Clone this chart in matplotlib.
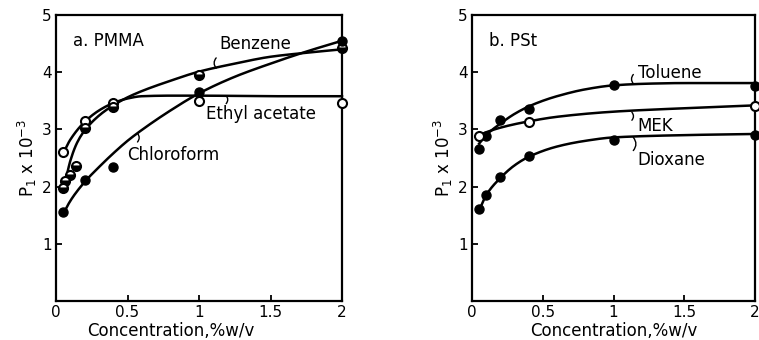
import numpy as np
import matplotlib
matplotlib.use("Agg")
import matplotlib.pyplot as plt

# ── Panel a: PMMA ─────────────────────────────────────────────────────────────
# measured points (read from figure)
ea_x = [0.05, 0.2, 0.4, 1.0, 2.0]
ea_y = [2.60, 3.15, 3.47, 3.50, 3.47]
bz_x = [0.05, 0.06, 0.10, 0.14, 0.2, 0.4, 1.0, 2.0]
bz_y = [1.97, 2.10, 2.20, 2.36, 3.02, 3.40, 3.95, 4.42]
cf_x = [0.05, 0.2, 0.4, 1.0, 2.0]
cf_y = [1.56, 2.12, 2.34, 3.66, 4.55]

# hand-drawn fit curves
ea_cx = [0.05, 0.1, 0.2, 0.3, 0.4, 0.5, 0.6, 0.8, 1.0, 1.5, 2.0]
ea_cy = [2.58, 2.82, 3.13, 3.33, 3.46, 3.54, 3.58, 3.59, 3.59, 3.58, 3.58]
bz_cx = [0.05, 0.08, 0.1, 0.15, 0.2, 0.3, 0.4, 0.5, 0.6, 0.8, 1.0, 1.25, 1.5, 1.75, 2.0]
bz_cy = [1.93, 2.25, 2.45, 2.78, 2.98, 3.24, 3.42, 3.56, 3.67, 3.85, 4.01, 4.15, 4.27, 4.34, 4.40]
cf_cx = [0.05, 0.1, 0.2, 0.3, 0.4, 0.5, 0.6, 0.8, 1.0, 1.25, 1.5, 1.75, 2.0]
cf_cy = [1.52, 1.75, 2.08, 2.34, 2.58, 2.80, 2.99, 3.33, 3.63, 3.92, 4.15, 4.36, 4.55]

# ── Panel b: PSt ──────────────────────────────────────────────────────────────
tol_x = [0.05, 0.1, 0.2, 0.4, 1.0, 2.0]
tol_y = [2.65, 2.88, 3.16, 3.36, 3.78, 3.76]
mek_x = [0.05, 0.4, 2.0]
mek_y = [2.88, 3.13, 3.41]
dio_x = [0.05, 0.1, 0.2, 0.4, 1.0, 2.0]
dio_y = [1.60, 1.85, 2.16, 2.53, 2.81, 2.90]

tol_cx = [0.05, 0.1, 0.2, 0.3, 0.4, 0.5, 0.6, 0.8, 1.0, 1.25, 1.5, 2.0]
tol_cy = [2.75, 2.90, 3.10, 3.27, 3.40, 3.50, 3.58, 3.70, 3.77, 3.80, 3.81, 3.81]
mek_cx = [0.05, 0.1, 0.2, 0.4, 0.6, 1.0, 1.5, 2.0]
mek_cy = [2.90, 2.95, 3.03, 3.14, 3.22, 3.31, 3.37, 3.42]
dio_cx = [0.05, 0.1, 0.2, 0.3, 0.4, 0.6, 0.8, 1.0, 1.5, 2.0]
dio_cy = [1.58, 1.85, 2.15, 2.37, 2.52, 2.70, 2.80, 2.86, 2.90, 2.92]


def smooth(xs, ys, n=200):
    """Monotone cubic (Fritsch-Carlson) rendering of a hand-drawn curve."""
    x = np.asarray(xs, float)
    y = np.asarray(ys, float)
    h = np.diff(x)
    d = np.diff(y) / h
    m = np.zeros_like(x)
    m[0], m[-1] = d[0], d[-1]
    for i in range(1, len(x) - 1):
        if d[i - 1] * d[i] <= 0:
            m[i] = 0.0
        else:
            w1 = 2 * h[i] + h[i - 1]
            w2 = h[i] + 2 * h[i - 1]
            m[i] = (w1 + w2) / (w1 / d[i - 1] + w2 / d[i])
    xx = np.linspace(x[0], x[-1], n)
    k = np.clip(np.searchsorted(x, xx) - 1, 0, len(x) - 2)
    t = (xx - x[k]) / h[k]
    h00 = 2 * t**3 - 3 * t**2 + 1
    h10 = t**3 - 2 * t**2 + t
    h01 = -2 * t**3 + 3 * t**2
    h11 = t**3 - t**2
    yy = h00 * y[k] + h10 * h[k] * m[k] + h01 * y[k + 1] + h11 * h[k] * m[k + 1]
    return xx, yy


LW = 1.8
MS = 6.5
FS = 12


def style_axes(ax, title):
    ax.set_xlim(0, 2)
    ax.set_ylim(0, 5)
    ax.set_xticks([0, 0.5, 1, 1.5, 2])
    ax.set_xticklabels(["0", "0.5", "1", "1.5", "2"])
    ax.set_yticks([1, 2, 3, 4, 5])
    ax.tick_params(direction="in", length=4, width=1.3, labelsize=11, pad=3)
    for s in ax.spines.values():
        s.set_linewidth(1.6)
    ax.set_xlabel("Concentration,%w/v", fontsize=FS, labelpad=1)
    ax.set_ylabel(r"P$_1$ x 10$^{-3}$", fontsize=FS, labelpad=2)
    ax.text(0.12, 4.55, title, fontsize=FS, va="center")


def leader(ax, x, y0, y1):
    ax.annotate("", xy=(x, y0), xytext=(x, y1),
                arrowprops=dict(arrowstyle="-", lw=1.0, color="black",
                                connectionstyle="arc3,rad=0.4",
                                shrinkA=0, shrinkB=0))


fig = plt.figure(figsize=(7.59, 3.40), dpi=100)
ax1 = fig.add_axes([56 / 759, 39 / 340, 286 / 759, 286 / 340])
ax2 = fig.add_axes([472 / 759, 39 / 340, 283 / 759, 286 / 340])

# Panel a
for cx, cy in ((ea_cx, ea_cy), (bz_cx, bz_cy), (cf_cx, cf_cy)):
    xx, yy = smooth(cx, cy)
    ax1.plot(xx, yy, color="black", lw=LW, clip_on=False)
ax1.plot(ea_x, ea_y, "o", ms=MS, mfc="white", mec="black", mew=1.5, clip_on=False, zorder=4)
ax1.plot(bz_x, bz_y, "o", ms=MS, fillstyle="bottom", mfc="black", mfcalt="white",
         mec="black", mew=1.5, clip_on=False, zorder=4)
ax1.plot(cf_x, cf_y, "o", ms=MS, mfc="black", mec="black", clip_on=False, zorder=4)
style_axes(ax1, "a. PMMA")
ax1.set_xlabel("Concentration,%w/v", fontsize=FS, labelpad=1, x=0.4)
ax1.text(1.14, 4.5, "Benzene", fontsize=FS, va="center")
ax1.text(1.05, 3.27, "Ethyl acetate", fontsize=FS, va="center")
ax1.text(0.5, 2.55, "Chloroform", fontsize=FS, va="center")
leader(ax1, 1.12, 4.07, 4.25)
leader(ax1, 1.19, 3.59, 3.45)
leader(ax1, 0.57, 2.93, 2.78)

# Panel b
for cx, cy in ((tol_cx, tol_cy), (mek_cx, mek_cy), (dio_cx, dio_cy)):
    xx, yy = smooth(cx, cy)
    ax2.plot(xx, yy, color="black", lw=LW, clip_on=False)
ax2.plot(tol_x, tol_y, "o", ms=MS, mfc="black", mec="black", clip_on=False, zorder=4)
ax2.plot(mek_x, mek_y, "o", ms=MS, mfc="white", mec="black", mew=1.5, clip_on=False, zorder=4)
ax2.plot(dio_x, dio_y, "o", ms=MS, mfc="black", mec="black", clip_on=False, zorder=4)
style_axes(ax2, "b. PSt")
ax2.text(1.17, 3.98, "Toluene", fontsize=FS, va="center")
ax2.text(1.17, 3.06, "MEK", fontsize=FS, va="center")
ax2.text(1.17, 2.46, "Dioxane", fontsize=FS, va="center")
leader(ax2, 1.14, 3.80, 3.96)
leader(ax2, 1.13, 3.30, 3.16)
leader(ax2, 1.14, 2.86, 2.63)

fig.savefig("out.png", dpi=100)
